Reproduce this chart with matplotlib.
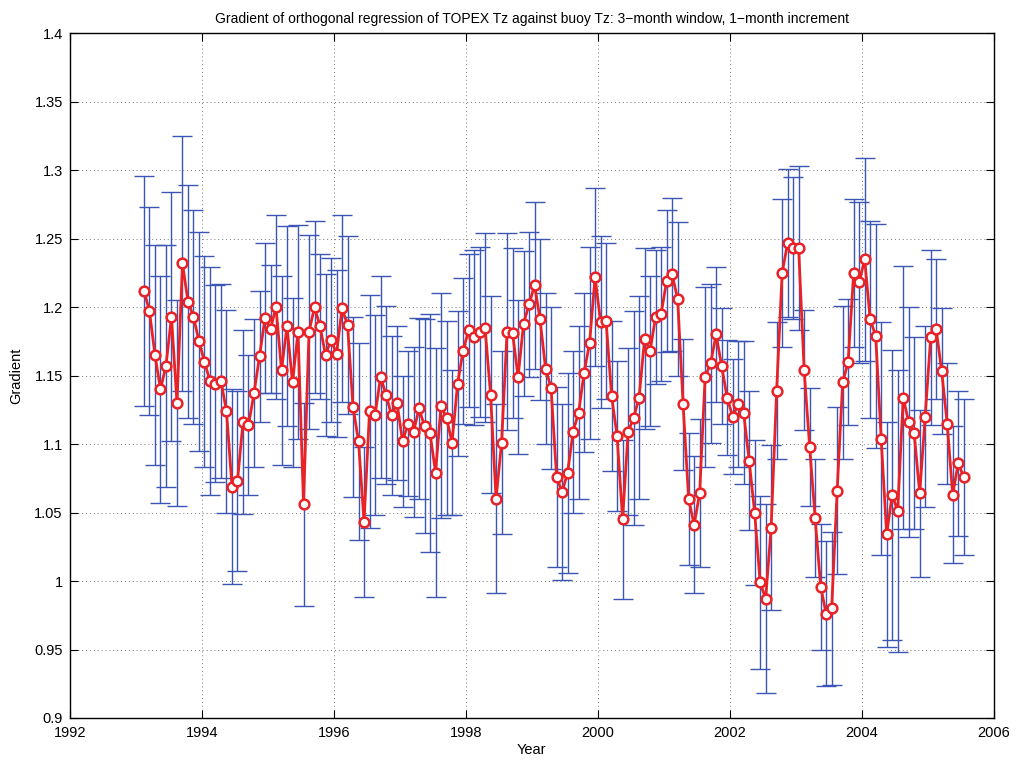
import numpy as np
import matplotlib
matplotlib.use('Agg')
import matplotlib.pyplot as plt

plt.rcParams['font.family'] = ['Liberation Sans', 'DejaVu Sans']

# monthly series, first point mid Feb 1993
start_year = 1993 + 1.5 / 12

gradient = [
    1.212, 1.197, 1.165, 1.140, 1.157, 1.193, 1.130, 1.232, 1.204, 1.193,
    1.175, 1.160, 1.146, 1.144, 1.146, 1.124, 1.069, 1.073, 1.116, 1.114,
    1.137, 1.164, 1.192, 1.184, 1.200, 1.154, 1.186, 1.145, 1.182, 1.056,
    1.182, 1.200, 1.186, 1.165, 1.176, 1.166, 1.199, 1.187, 1.127, 1.102,
    1.043, 1.124, 1.121, 1.149, 1.136, 1.121, 1.130, 1.102, 1.115, 1.109,
    1.126, 1.113, 1.108, 1.079, 1.128, 1.119, 1.101, 1.144, 1.168, 1.183,
    1.178, 1.182, 1.185, 1.136, 1.060, 1.101, 1.182, 1.181, 1.149, 1.188,
    1.202, 1.216, 1.191, 1.155, 1.141, 1.076, 1.065, 1.079, 1.109, 1.123,
    1.152, 1.174, 1.222, 1.189, 1.190, 1.135, 1.106, 1.045, 1.109, 1.119,
    1.134, 1.177, 1.168, 1.193, 1.195, 1.219, 1.224, 1.206, 1.129, 1.060,
    1.041, 1.064, 1.149, 1.159, 1.180, 1.157, 1.134, 1.120, 1.129, 1.123,
    1.088, 1.050, 0.999, 0.987, 1.039, 1.139, 1.225, 1.247, 1.243, 1.243,
    1.154, 1.098, 1.046, 0.996, 0.976, 0.980, 1.066, 1.145, 1.160, 1.225,
    1.218, 1.235, 1.191, 1.179, 1.104, 1.034, 1.063, 1.051, 1.134, 1.116,
    1.108, 1.064, 1.120, 1.178, 1.184, 1.153, 1.115, 1.063, 1.086, 1.076,
]

half_width = [
    0.084, 0.076, 0.080, 0.083, 0.088, 0.091, 0.075, 0.093, 0.085, 0.078,
    0.080, 0.077, 0.083, 0.072, 0.071, 0.074, 0.071, 0.066, 0.067, 0.051,
    0.054, 0.048, 0.055, 0.047, 0.067, 0.069, 0.073, 0.062, 0.078, 0.074,
    0.071, 0.063, 0.053, 0.059, 0.060, 0.061, 0.068, 0.065, 0.066, 0.072,
    0.055, 0.085, 0.073, 0.074, 0.065, 0.058, 0.056, 0.048, 0.053, 0.062,
    0.066, 0.078, 0.087, 0.091, 0.082, 0.071, 0.053, 0.053, 0.053, 0.056,
    0.064, 0.062, 0.069, 0.072, 0.069, 0.067, 0.072, 0.062, 0.056, 0.053,
    0.053, 0.061, 0.059, 0.055, 0.059, 0.066, 0.064, 0.073, 0.059, 0.063,
    0.058, 0.070, 0.065, 0.063, 0.057, 0.055, 0.055, 0.058, 0.061, 0.078,
    0.074, 0.066, 0.055, 0.049, 0.049, 0.052, 0.056, 0.056, 0.048, 0.048,
    0.050, 0.054, 0.066, 0.058, 0.049, 0.042, 0.042, 0.042, 0.046, 0.052,
    0.051, 0.053, 0.063, 0.069, 0.060, 0.050, 0.054, 0.054, 0.052, 0.060,
    0.044, 0.043, 0.043, 0.046, 0.053, 0.056, 0.061, 0.056, 0.046, 0.054,
    0.059, 0.074, 0.072, 0.082, 0.085, 0.082, 0.106, 0.103, 0.096, 0.084,
    0.070, 0.061, 0.066, 0.064, 0.051, 0.046, 0.044, 0.050, 0.053, 0.057,
]

years = start_year + np.arange(len(gradient)) / 12.0

fig = plt.figure(figsize=(10.16, 7.63), dpi=100)
ax = fig.add_axes([0.0686, 0.059, 0.9097, 0.8975])

ax.errorbar(years, gradient, yerr=half_width, fmt='none', ecolor='#3a55b4',
            elinewidth=1.0, capsize=7.5, capthick=1.0, zorder=2)
ax.plot(years, gradient, '-o', color='#e82226', lw=2.0, ms=7,
        mfc='white', mec='#e82226', mew=1.8, zorder=3)

ax.set_xlim(1992, 2006)
ax.set_ylim(0.9, 1.4)
ax.set_xticks(np.arange(1992, 2007, 2))
yt = np.arange(0.9, 1.4001, 0.05)
ax.set_yticks(yt)
ax.set_yticklabels(['%g' % round(v, 2) for v in yt])

ax.grid(True, linestyle=(0, (1, 3)), color='#777777', linewidth=0.7)
ax.tick_params(direction='in', top=True, right=True, length=6, width=0.8,
               labelsize=10.5, colors='black')
ax.tick_params(axis='x', pad=6)
ax.tick_params(axis='y', pad=5)
for s in ax.spines.values():
    s.set_linewidth(1.0)

ax.set_xlabel('Year', fontsize=10.5, labelpad=2)
ax.set_ylabel('Gradient', fontsize=10.5, labelpad=8)
ax.set_title('Gradient of orthogonal regression of TOPEX Tz against buoy Tz: '
             '3\u2212month window, 1\u2212month increment', fontsize=10, pad=7)

fig.savefig('out.png', dpi=100)
